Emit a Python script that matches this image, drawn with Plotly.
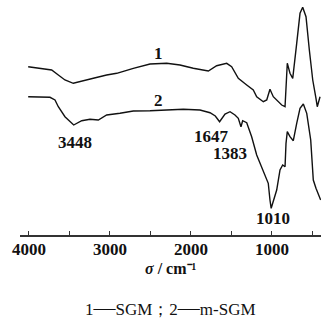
import plotly.graph_objects as go

# Wavenumber (cm^-1) and relative transmittance (a.u.)
wn_sgm = [4010, 3864, 3720, 3638, 3556, 3453, 3349, 3206, 3041, 2917, 2712, 2506, 2300, 2136,
          1972, 1786, 1683, 1559, 1498, 1416, 1312, 1231, 1189, 1107, 1065, 1025, 984, 922,
          880, 839, 811, 778, 744, 695, 654, 621, 580, 539, 497, 457, 441, 407]
t_sgm = [168.3, 166.7, 165, 160, 155, 151.7, 154, 156.7, 160, 161.7, 166.7, 171, 171.7, 170,
         166.7, 164, 169.3, 171.7, 168.3, 156.7, 150, 145, 138.3, 133.3, 135, 145.7, 138.3, 133.3,
         130, 128.3, 171.7, 161.7, 156.7, 191.7, 221.7, 227.7, 218.3, 185, 155, 136.7, 128.3, 138.3]

wn_msgm = [4010, 3741, 3679, 3638, 3556, 3448, 3349, 3247, 3144, 3041, 2877, 2712, 2506, 2300,
           2095, 1889, 1765, 1700, 1647, 1580, 1518, 1457, 1416, 1383, 1362, 1312, 1251, 1189,
           1107, 1046, 1025, 1010, 942, 901, 868, 839, 827, 811, 778, 737, 695, 654, 613, 571,
           522, 490, 457, 428, 399]
t_msgm = [138.3, 137.7, 135, 128.3, 118.3, 110, 114.3, 115.7, 115, 120, 121.7, 124, 124.3, 125,
          125.7, 125, 122.3, 119, 113.3, 121, 123.3, 120, 116.7, 108.3, 114.3, 112.3, 98.3, 80,
          63.3, 51.7, 35, 26.7, 45, 65, 70, 68.3, 91.7, 103.3, 98.3, 94.3, 111.7, 126.7, 131,
          121.7, 95, 55, 46.7, 41.7, 35]

tick_vals = [4000, 3500, 3000, 2500, 2000, 1500, 1000, 500]
tick_text = ["<b>4000</b>", "", "<b>3000</b>", "", "<b>2000</b>", "", "<b>1000</b>", ""]

# Peak labels: (text, wavenumber, transmittance)
label_text = ["1", "2", "3448", "1647", "1383", "1010"]
label_wn = [2407, 2407, 3432, 1741, 1518, 984]
label_t = [182, 135, 93, 99, 82, 17]

FONT = "Liberation Serif"
INK = "#111111"

fig = go.Figure()
fig.add_trace(go.Scatter(x=wn_sgm, y=t_sgm, mode="lines",
                         line=dict(color=INK, width=1.4), showlegend=False))
fig.add_trace(go.Scatter(x=wn_msgm, y=t_msgm, mode="lines",
                         line=dict(color=INK, width=1.4), showlegend=False))

for txt, xv, yv in zip(label_text, label_wn, label_t):
    fig.add_annotation(x=xv, y=yv, text="<b>" + txt + "</b>", showarrow=False,
                       font=dict(family=FONT, size=17, color=INK),
                       xanchor="center", yanchor="middle")

fig.add_annotation(x=0.5, xref="paper", y=-0.142, yref="paper",
                   text="<b><i>σ</i> / cm⁻¹</b>", showarrow=False,
                   font=dict(family=FONT, size=16, color=INK),
                   xanchor="center", yanchor="middle")
dash = "<span style='font-size:22px'>—</span>"
fig.add_annotation(x=0.5, xref="paper", y=-0.31, yref="paper",
                   text="1" + dash + "SGM；2" + dash + "m-SGM", showarrow=False,
                   font=dict(family=FONT, size=17, color=INK),
                   xanchor="center", yanchor="middle")

fig.update_layout(
    width=321, height=328,
    margin=dict(l=20, r=0, t=0, b=93, autoexpand=False),
    paper_bgcolor="white", plot_bgcolor="white",
    xaxis=dict(range=[4111, 395], tickvals=tick_vals, ticktext=tick_text,
               ticks="inside", ticklen=4, tickwidth=1.2, tickcolor="#333333",
               showline=True, linecolor="#333333", linewidth=1.5,
               showgrid=False, zeroline=False, automargin=False,
               ticklabelstandoff=-2,
               tickfont=dict(family=FONT, size=17, color=INK)),
    yaxis=dict(range=[0, 235], visible=False, showgrid=False, zeroline=False,
               automargin=False),
)

fig.write_html("out.html", config={"displayModeBar": False},
               post_script="document.body.style.margin='0';document.body.style.overflow='hidden';")
